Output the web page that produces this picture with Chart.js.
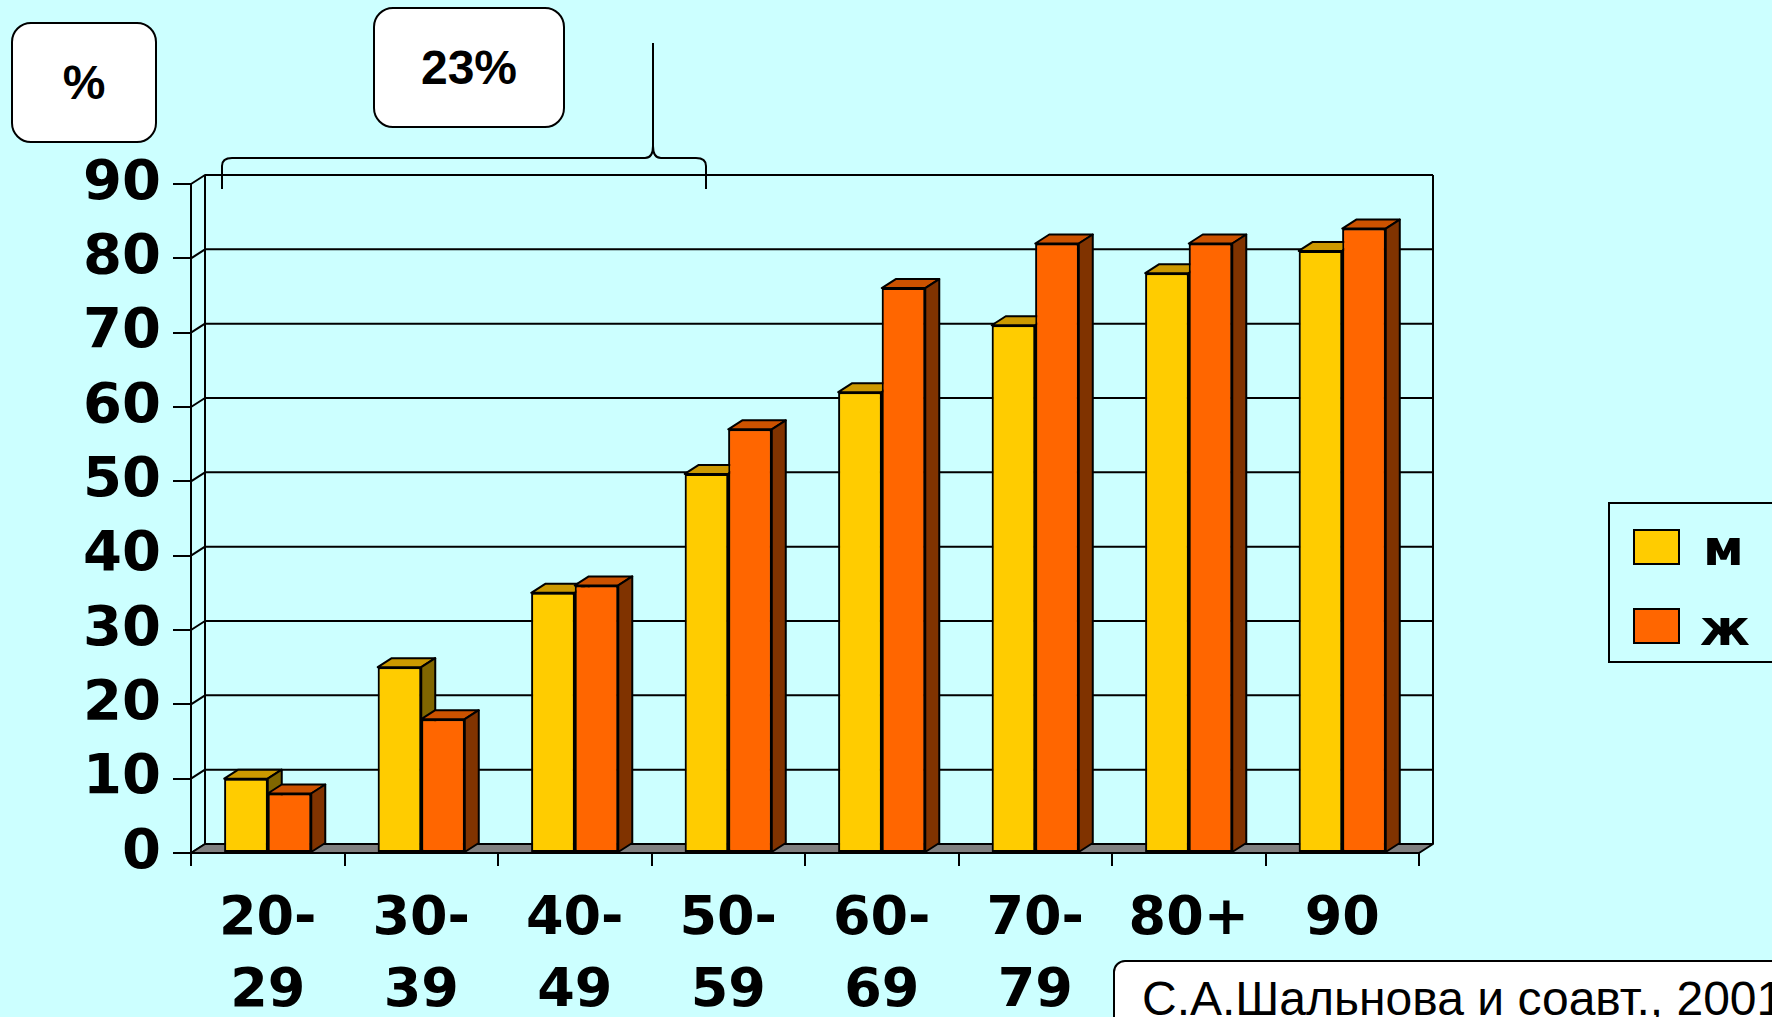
<!DOCTYPE html>
<html lang="ru">
<head>
<meta charset="utf-8">
<title>АГ по возрасту</title>
<script src="https://cdn.jsdelivr.net/npm/chart.js@4.4.0/dist/chart.umd.min.js"></script>
<style>
  html, body { margin:0; padding:0; background:#CCFFFF; overflow:hidden; }
  #wrap { position:relative; width:1772px; height:1017px; }
  #chart { position:absolute; left:0; top:0; }
  .note { position:absolute; box-sizing:border-box; background:#fff; border:2px solid #000; border-radius:20px;
          display:flex; align-items:center; justify-content:center;
          font-family:"Liberation Sans", Arial, sans-serif; font-weight:bold; font-size:48px; line-height:48px; color:#000; }
  #legend { position:absolute; left:1608px; top:502px; width:220px; height:161px; box-sizing:border-box; border:2px solid #000; }
  .swatch { position:absolute; width:47px; height:36px; box-sizing:border-box; border:2px solid #000; }
  .lgtext { position:absolute; font-family:"DejaVu Sans", sans-serif; font-weight:bold; font-size:50px; line-height:50px; color:#000; }
  #source { position:absolute; left:1113px; top:960px; width:760px; height:120px; box-sizing:border-box; background:#fff;
            border:2px solid #000; border-radius:12px; padding:13px 0 0 27px;
            font-family:"Liberation Sans", Arial, sans-serif; font-size:48px; line-height:48px; color:#000; white-space:nowrap; }
</style>
</head>
<body>
<div id="wrap">
  <canvas id="chart" width="1772" height="1017"></canvas>
  <div class="note" style="left:11px;top:22px;width:146px;height:121px;">%</div>
  <div class="note" style="left:373px;top:7px;width:192px;height:121px;">23%</div>
  <div id="legend"></div>
  <div id="source">С.А.Шальнова и соавт., 2001</div>
</div>
<script>
// values (% with hypertension by age group)
const ageGroups = [['20-','29'], ['30-','39'], ['40-','49'], ['50-','59'], ['60-','69'], ['70-','79'], ['80+'], ['90']];
const menValues = [10, 25, 35, 51, 62, 71, 78, 81];
const womenValues = [8, 18, 36, 57, 76, 82, 82, 84];
const seriesNames = ['м', 'ж'];
const yMin = 0, yMax = 90, yStep = 10;

const frontColors = ['#FFCC00', '#FF6600'];
const topColors = ['#CC9900', '#CC5200'];
const sideColors = ['#806600', '#803300'];
const dx = 14, dy = 9; // depth of the fake 3d

// back wall, left wall edges and floor
const wall3d = {
  id: 'wall3d',
  beforeDatasetsDraw(chart) {
    const { ctx, chartArea: a, scales: { y } } = chart;
    ctx.save();
    ctx.lineWidth = 2; ctx.strokeStyle = '#000'; ctx.lineJoin = 'round';
    const top = y.getPixelForValue(yMax), bot = y.getPixelForValue(yMin);
    y.ticks.forEach(t => {
      const py = y.getPixelForValue(t.value);
      ctx.beginPath();
      ctx.moveTo(a.left, py); ctx.lineTo(a.left + dx, py - dy); ctx.lineTo(a.right + dx, py - dy);
      ctx.stroke();
    });
    ctx.beginPath();
    ctx.moveTo(a.left + dx, bot - dy); ctx.lineTo(a.left + dx, top - dy);
    ctx.moveTo(a.right + dx, bot - dy); ctx.lineTo(a.right + dx, top - dy);
    ctx.stroke();
    // floor
    ctx.fillStyle = '#808080';
    ctx.beginPath();
    ctx.moveTo(a.left, bot); ctx.lineTo(a.right, bot); ctx.lineTo(a.right + dx, bot - dy); ctx.lineTo(a.left + dx, bot - dy);
    ctx.closePath(); ctx.fill(); ctx.stroke();
    ctx.restore();
  },
  // redraw bars left series first, each with its top and side faces
  afterDatasetsDraw(chart) {
    const { ctx } = chart;
    ctx.save();
    ctx.lineWidth = 2; ctx.strokeStyle = '#000'; ctx.lineJoin = 'round';
    [0, 1].forEach(i => {
      chart.getDatasetMeta(i).data.forEach(bar => {
        bar.draw(ctx);
        const { x, y, base, width } = bar.getProps(['x', 'y', 'base', 'width'], true);
        const l = x - width / 2, r = x + width / 2;
        ctx.lineWidth = 2; ctx.strokeStyle = '#000';
        ctx.fillStyle = topColors[i];
        ctx.beginPath();
        ctx.moveTo(l, y); ctx.lineTo(l + dx, y - dy); ctx.lineTo(r + dx, y - dy); ctx.lineTo(r, y);
        ctx.closePath(); ctx.fill(); ctx.stroke();
        ctx.fillStyle = sideColors[i];
        ctx.beginPath();
        ctx.moveTo(r, y); ctx.lineTo(r + dx, y - dy); ctx.lineTo(r + dx, base - dy); ctx.lineTo(r, base);
        ctx.closePath(); ctx.fill(); ctx.stroke();
      });
    });
    ctx.restore();
  },
  // the curly brace over the first age groups
  afterDraw(chart) {
    const ctx = chart.ctx;
    ctx.save();
    ctx.lineWidth = 2; ctx.strokeStyle = '#000';
    ctx.beginPath();
    ctx.moveTo(222, 189);
    ctx.lineTo(222, 166);
    ctx.quadraticCurveTo(222, 158, 232, 158);
    ctx.lineTo(645, 158);
    ctx.quadraticCurveTo(653, 158, 653, 146);
    ctx.lineTo(653, 43);
    ctx.moveTo(653, 146);
    ctx.quadraticCurveTo(653, 158, 661, 158);
    ctx.lineTo(696, 158);
    ctx.quadraticCurveTo(706, 158, 706, 166);
    ctx.lineTo(706, 189);
    ctx.stroke();
    ctx.restore();
  }
};

const axisBlack = { color: '#000', width: 2 };

new Chart(document.getElementById('chart'), {
  type: 'bar',
  data: {
    labels: ageGroups,
    datasets: [
      { label: seriesNames[0], data: menValues, backgroundColor: frontColors[0], borderColor: '#000', borderWidth: 2, borderSkipped: false },
      { label: seriesNames[1], data: womenValues, backgroundColor: frontColors[1], borderColor: '#000', borderWidth: 2, borderSkipped: false }
    ]
  },
  options: {
    responsive: false,
    animation: false,
    events: [],
    layout: { padding: { left: 0, top: 184, right: 353, bottom: 0 } },
    datasets: { bar: { categoryPercentage: 0.567, barPercentage: 1.0 } },
    plugins: { legend: { display: false }, tooltip: { enabled: false } },
    scales: {
      x: {
        afterFit(s) { s.height = 164; },
        grid: { drawOnChartArea: false, color: '#000', lineWidth: 2, tickLength: 13, offset: true },
        border: axisBlack,
        ticks: { color: '#000', padding: 18, maxRotation: 0, autoSkip: false,
                 font: { family: 'DejaVu Sans', weight: 'bold', size: 54, lineHeight: 1.33 } }
      },
      y: {
        min: yMin, max: yMax,
        afterFit(s) { s.width = 191; },
        grid: { drawOnChartArea: false, color: '#000', lineWidth: 2, tickLength: 18 },
        border: axisBlack,
        ticks: { stepSize: yStep, color: '#000', padding: 12,
                 font: { family: 'DejaVu Sans', weight: 'bold', size: 56 } }
      }
    }
  },
  plugins: [wall3d]
});

// legend built from the series
const legendEl = document.getElementById('legend');
const swatchTops = [529, 608], textTops = [523, 603], textLefts = [1703, 1700];
seriesNames.forEach((name, i) => {
  const sw = document.createElement('div');
  sw.className = 'swatch';
  sw.style.left = (1633 - 1610) + 'px'; sw.style.top = (swatchTops[i] - 504) + 'px';
  sw.style.background = frontColors[i];
  legendEl.appendChild(sw);
  const tx = document.createElement('div');
  tx.className = 'lgtext';
  tx.style.left = (textLefts[i] - 1610) + 'px'; tx.style.top = (textTops[i] - 504) + 'px';
  tx.textContent = name;
  legendEl.appendChild(tx);
});
</script>
</body>
</html>
